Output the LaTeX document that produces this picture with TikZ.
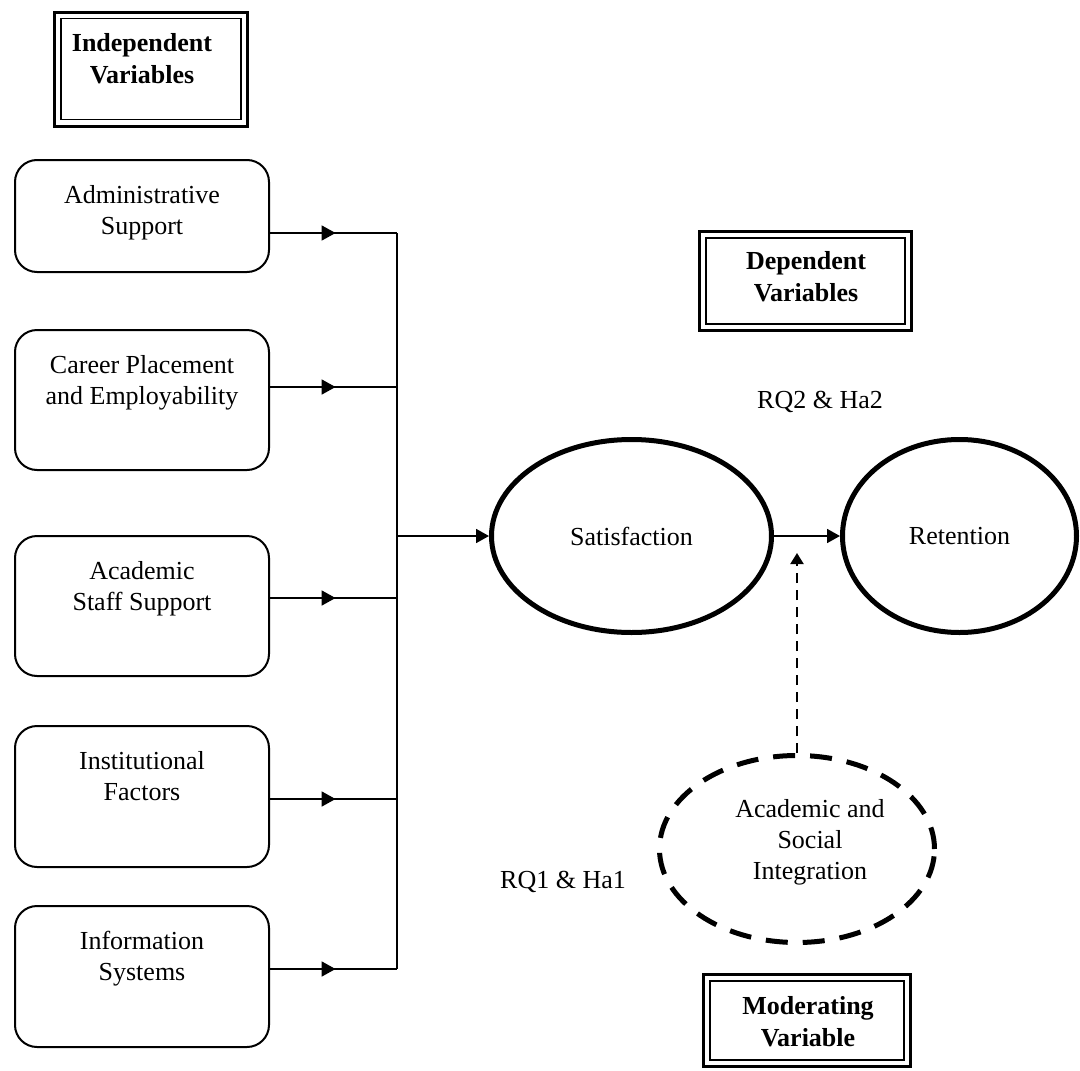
\documentclass[tikz,border=0pt]{standalone}
\usepackage{fontspec}
\setmainfont{Liberation Serif}
\usetikzlibrary{shapes.geometric,arrows.meta,decorations.markings,calc}
\begin{document}
\begin{tikzpicture}[x=1pt,y=-1pt,
  every node/.style={font=\fontsize{26pt}{31pt}\selectfont},
  ivbox/.style={draw, line width=2pt, rounded corners=22pt, minimum width=254pt, outer sep=0pt, inner sep=0pt},
  boxtext/.style={align=center, inner sep=0pt},
  hdrbox/.style={draw, line width=3pt, outer sep=0pt, inner sep=0pt},
  hdrinner/.style={line width=1.3pt},
  hdrtext/.style={align=center, inner sep=0pt, font=\fontsize{26pt}{32pt}\selectfont\bfseries},
  conn/.style={line width=1.8pt},
  tip/.style={-{Triangle[length=13pt,width=14pt]}},
  midarrow/.style={postaction={decorate}, decoration={markings, mark=at position 0.52 with {\arrow{Triangle[length=14pt,width=15pt]}}}},
  var/.style={ellipse, draw, line width=5pt, inner sep=0pt},
  modvar/.style={ellipse, draw, line width=5pt, dash pattern=on 22pt off 15pt, inner sep=0pt},
  plain/.style={inner sep=0pt}
]
\useasboundingbox (0,0) rectangle (1080,1071);

% header boxes
\node[hdrbox, minimum width=193pt, minimum height=114pt] (ivh) at (151,69) {};
\draw[hdrinner] ($(ivh.north west)+(6.5pt,-6.5pt)$) rectangle ($(ivh.south east)+(-6.5pt,6.5pt)$);
\node[hdrtext] (ivt) at (142,59) {Independent\\Variables};

\node[hdrbox, minimum width=212pt, minimum height=99pt] (dvh) at (805.5,281) {};
\draw[hdrinner] ($(dvh.north west)+(6.5pt,-6.5pt)$) rectangle ($(dvh.south east)+(-6.5pt,6.5pt)$);
\node[hdrtext] (dvt) at (806,277) {Dependent\\Variables};

\node[hdrbox, minimum width=207pt, minimum height=92pt] (mvh) at (807,1020.5) {};
\draw[hdrinner] ($(mvh.north west)+(6.5pt,-6.5pt)$) rectangle ($(mvh.south east)+(-6.5pt,6.5pt)$);
\node[hdrtext] (mvt) at (808,1022) {Moderating\\Variable};

% independent variable boxes
\node[ivbox, minimum height=112pt, label={[boxtext,anchor=north,yshift=-25pt]north:{Administrative\\Support}}] (b1) at (142,216) {};
\node[ivbox, minimum height=140pt, label={[boxtext,anchor=north,yshift=-25pt]north:{Career Placement\\and Employability}}] (b2) at (142,400) {};
\node[ivbox, minimum height=140pt, label={[boxtext,anchor=north,yshift=-25pt]north:{Academic\\Staff Support}}] (b3) at (142,606) {};
\node[ivbox, minimum height=141pt, label={[boxtext,anchor=north,yshift=-25pt]north:{Institutional\\Factors}}] (b4) at (142,796.5) {};
\node[ivbox, minimum height=141pt, label={[boxtext,anchor=north,yshift=-25pt]north:{Information\\Systems}}] (b5) at (142,976.5) {};

% junction points
\coordinate (j1) at (397,233);
\coordinate (j2) at (397,387);
\coordinate (j3) at (397,598);
\coordinate (j4) at (397,799);
\coordinate (j5) at (397,969);
\coordinate (jm) at (397,536);

\draw[conn, midarrow] (b1.east |- j1) -- (j1);
\draw[conn, midarrow] (b2.east |- j2) -- (j2);
\draw[conn, midarrow] (b3.east |- j3) -- (j3);
\draw[conn, midarrow] (b4.east |- j4) -- (j4);
\draw[conn, midarrow] (b5.east |- j5) -- (j5);
\draw[conn] (j1) -- (j5);

% dependent variables
\node[var, minimum width=280pt, minimum height=193pt] (sat) at (631.5,536) {Satisfaction};
\node[var, minimum width=234pt, minimum height=193pt] (ret) at (959.5,536) {Retention};

\draw[conn, tip] (jm) -- (sat.west);
\draw[conn, tip] (sat.east) -- (ret.west);

% moderating variable
\node[modvar, minimum width=275pt, minimum height=187pt,
  label={[plain, align=center, xshift=13pt, yshift=7pt]center:{Academic and\\Social\\Integration}}] (mod) at (797,849) {};
\coordinate (dtip) at (797,553);
\draw[line width=2pt, dash pattern=on 10pt off 7pt, -{Triangle[length=11pt,width=13pt]}] (mod.north) -- (dtip);

% labels
\node[plain] (rq2) at (820,402) {RQ2 \& Ha2};
\node[plain] (rq1) at (563,882) {RQ1 \& Ha1};
\end{tikzpicture}
\end{document}
